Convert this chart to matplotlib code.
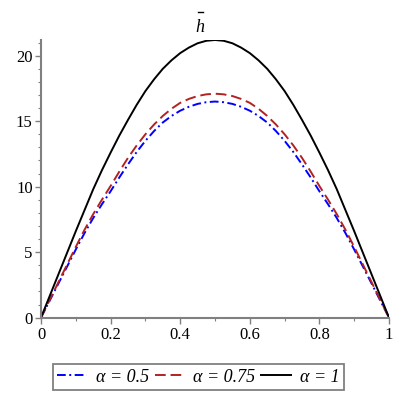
import matplotlib
matplotlib.use("Agg")
import matplotlib.pyplot as plt
from matplotlib.ticker import MultipleLocator
from matplotlib.lines import Line2D

x = [0.0, 0.025, 0.05, 0.075, 0.1, 0.125, 0.15, 0.175, 0.2, 0.225, 0.25,
     0.275, 0.3, 0.325, 0.35, 0.375, 0.4, 0.425, 0.45, 0.475, 0.5,
     0.525, 0.55, 0.575, 0.6, 0.625, 0.65, 0.675, 0.7, 0.725, 0.75,
     0.775, 0.8, 0.825, 0.85, 0.875, 0.9, 0.925, 0.95, 0.975, 1.0]
h_a05 = [0.0, 1.3, 2.6, 3.9, 5.2, 6.45, 7.6, 8.65, 9.65, 10.7, 11.7,
         12.65, 13.5, 14.25, 14.9, 15.4, 15.8, 16.1, 16.32, 16.45, 16.5,
         16.45, 16.32, 16.1, 15.8, 15.4, 14.9, 14.25, 13.5, 12.65, 11.7,
         10.7, 9.65, 8.65, 7.6, 6.45, 5.2, 3.9, 2.6, 1.3, 0.0]
h_a075 = [0.0, 1.35, 2.7, 4.05, 5.4, 6.7, 7.9, 9.0, 10.05, 11.15, 12.2,
          13.15, 14.0, 14.75, 15.4, 15.95, 16.4, 16.7, 16.92, 17.05, 17.1,
          17.05, 16.92, 16.7, 16.4, 15.95, 15.4, 14.75, 14.0, 13.15, 12.2,
          11.15, 10.05, 9.0, 7.9, 6.7, 5.4, 4.05, 2.7, 1.35, 0.0]
h_a1 = [0.0, 1.65, 3.3, 4.95, 6.6, 8.2, 9.8, 11.25, 12.6, 13.9, 15.1,
        16.25, 17.3, 18.2, 19.0, 19.65, 20.2, 20.62, 20.95, 21.14, 21.2,
        21.14, 20.95, 20.62, 20.2, 19.65, 19.0, 18.2, 17.3, 16.25, 15.1,
        13.9, 12.6, 11.25, 9.8, 8.2, 6.6, 4.95, 3.3, 1.65, 0.0]
labels = ["α = 0.5", "α = 0.75", "α = 1"]
xticks = [0, 0.2, 0.4, 0.6, 0.8, 1]
xticklabels = ["0", "0.2", "0.4", "0.6", "0.8", "1"]
yticks = [0, 5, 10, 15, 20]

plt.rcParams['font.family'] = ['Liberation Serif', 'DejaVu Serif']

fig = plt.figure(figsize=(4, 4), dpi=100)
ax = fig.add_axes([0.1025, 0.206, 0.87, 0.694])

l1, = ax.plot(x, h_a05, color='#0000ff', lw=1.4, linestyle=(0, (4.5, 1.8, 1.0, 1.8)))
l2, = ax.plot(x, h_a075, color='#b22222', lw=1.4, linestyle=(0, (5.5, 2.5)))
l3, = ax.plot(x, h_a1, color='black', lw=1.4)

ax.set_xlim(0, 1)
ax.set_ylim(0, 21.2)
for s in ['top', 'right']:
    ax.spines[s].set_visible(False)
for s in ['left', 'bottom']:
    ax.spines[s].set_color('#808080')
    ax.spines[s].set_linewidth(1.5)

ax.set_xticks(xticks)
ax.set_xticklabels(xticklabels)
ax.set_yticks(yticks)
ax.xaxis.set_minor_locator(MultipleLocator(0.1))
ax.yaxis.set_minor_locator(MultipleLocator(1))
ax.tick_params(which='major', length=4, width=1, color='#808080', labelsize=12, pad=2)
ax.tick_params(which='minor', length=2.5, width=0.8, color='#808080')
ax.tick_params(axis='x', which='major', pad=3)

# title: italic h with an overbar
fig.text(0.5, 0.9325, 'h', ha='center', va='center', fontsize=13, style='italic')
fig.add_artist(Line2D([0.4945, 0.508], [0.969, 0.969], color='black', lw=1.0,
                      transform=fig.transFigure))

leg = fig.legend([l1, l2, l3], labels, loc='center', bbox_to_anchor=(0.496, 0.0575),
                 ncol=3, fancybox=False, edgecolor='#808080', framealpha=1,
                 prop={'family': 'Liberation Serif', 'style': 'italic', 'size': 13},
                 handlelength=1.65, handletextpad=0.5, columnspacing=0.3,
                 borderpad=0.25, borderaxespad=0)
leg.get_frame().set_linewidth(1.3)

fig.savefig('out.png', dpi=100)
